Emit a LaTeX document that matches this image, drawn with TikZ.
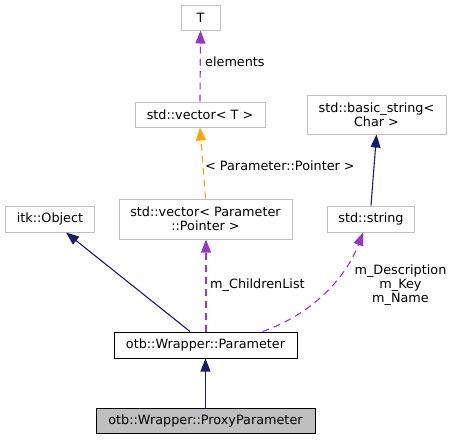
\documentclass[tikz,border=0pt]{standalone}
\usepackage{fontspec}
\setmainfont{DejaVu Sans}
\usetikzlibrary{arrows.meta,calc}
\definecolor{navy}{HTML}{191970}
\definecolor{orchid}{HTML}{9A32CD}
\definecolor{orng}{HTML}{FFA500}
\definecolor{boxgray}{HTML}{BFBFBF}
\begin{document}
\begin{tikzpicture}[x=1pt,y=-1pt,
  font=\fontsize{12.8}{14.3}\selectfont,
  cls/.style={draw=boxgray,line width=1pt,fill=white,inner sep=0pt,align=center},
  main/.style={draw=black,line width=1pt,inner sep=0pt,align=center},
  tip/.style={-{Triangle[length=13pt,width=10pt]}},
  inh/.style={tip,draw=navy,line width=1.1pt},
  mem/.style={tip,draw=orchid,line width=1.1pt,dash pattern=on 7pt off 5pt},
  tmpl/.style={tip,draw=orng,line width=1.1pt,dash pattern=on 7pt off 5pt},
  lbl/.style={inner sep=0pt,align=center,text=black}]
\useasboundingbox (0,0) rectangle (454,440);
\node[cls,minimum width=39pt,minimum height=25pt] (T) at (200.5,17.5) {T};
\node[cls,minimum width=130pt,minimum height=25pt] (vecT) at (200,114.5) {std::vector< T >};
\node[cls,minimum width=173pt,minimum height=40pt] (vecP) at (205.5,219) {std::vector< Parameter\\::Pointer >};
\node[cls,minimum width=89pt,minimum height=26pt] (itk) at (50,219) {itk::Object};
\node[cls,minimum width=87pt,minimum height=26pt] (str) at (371,219) {std::string};
\node[cls,minimum width=139pt,minimum height=39pt] (bstr) at (376.5,114.5) {std::basic\_string<\\Char >};
\node[main,fill=white,minimum width=183pt,minimum height=26pt] (param) at (205.5,345) {otb::Wrapper::Parameter};
\node[main,fill=boxgray,minimum width=219pt,minimum height=25pt] (proxy) at (205.5,420.5) {otb::Wrapper::ProxyParameter};
% edges
\draw[inh] (proxy.north) -- (param.south);
\draw[inh] ([xshift=-15.5pt]param.north) -- ([xshift=16pt]itk.south);
\draw[mem] ([xshift=0.5pt]param.north) -- ([xshift=0.5pt]vecP.south);
\node[lbl,anchor=west] (chlbl) at (210,285) {m\_ChildrenList};
\draw[mem] ([xshift=57pt]param.north) .. controls (310,315) and (345,280) .. ([xshift=-8pt]str.south);
\node[lbl] (strlbl) at (400.5,285) {m\_Description\\m\_Key\\m\_Name};
\draw[tmpl] (vecP.north) -- (vecT.south);
\node[lbl,anchor=west] (tplbl) at (205,166) {< Parameter::Pointer >};
\draw[mem] (vecT.north) -- (T.south);
\node[lbl,anchor=west] (ellbl) at (205,62) {elements};
\draw[inh] (str.north) -- (bstr.south);
\end{tikzpicture}
\end{document}
